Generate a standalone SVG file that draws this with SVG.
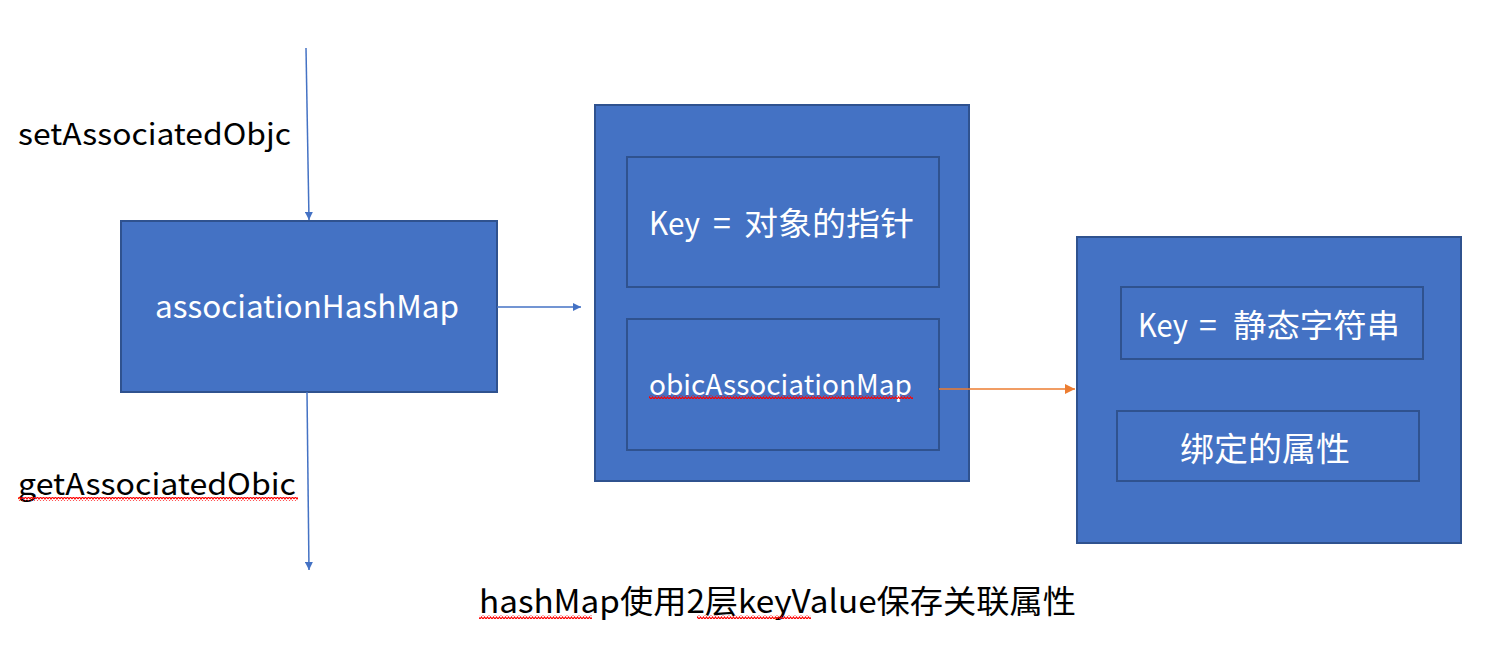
<svg xmlns="http://www.w3.org/2000/svg" width="1510" height="654" viewBox="0 0 1510 654">
<defs>
<style>
.box{fill:#4472C4;stroke:#2F528F;stroke-width:2}
.t{font-family:"Noto Sans CJK SC","Liberation Sans",sans-serif}
.w{fill:#fff}
.k{fill:#000}
.blue{stroke:#4472C4;stroke-width:1.5;fill:none}
.orange{stroke:#ED7D31;stroke-width:1.5;fill:none}
</style>
<marker id="ab" viewBox="0 0 10 10" refX="10" refY="5" markerWidth="8" markerHeight="8" markerUnits="userSpaceOnUse" orient="auto"><path d="M0,0 L10,5 L0,10 z" fill="#4472C4"/></marker>
<marker id="ao" viewBox="0 0 10 10" refX="10" refY="5" markerWidth="10" markerHeight="10" markerUnits="userSpaceOnUse" orient="auto"><path d="M0,0 L10,5 L0,10 z" fill="#ED7D31"/></marker>
<pattern id="wave" width="6" height="4" patternUnits="userSpaceOnUse"><path d="M0,3 L1.5,1 L3,3 L4.5,1 L6,3" stroke="#FF0000" stroke-width="1.2" fill="none"/></pattern>
</defs>
<rect width="1510" height="654" fill="#fff"/>
<g id="label-set"><text class="t k" x="18" y="145" font-size="30" textLength="273" lengthAdjust="spacingAndGlyphs">setAssociatedObjc</text></g>
<g id="label-get"><text class="t k" x="18" y="495" font-size="30" textLength="278" lengthAdjust="spacingAndGlyphs">getAssociatedObic</text>
<rect x="18" y="497" width="280" height="4" fill="url(#wave)"/></g>
<g id="associationHashMap">
<rect class="box" x="121" y="221" width="376" height="171"/>
<text class="t w" x="155" y="318" font-size="31" textLength="304" lengthAdjust="spacingAndGlyphs">associationHashMap</text>
</g>
<g id="outer-map">
<rect class="box" x="595" y="105" width="374" height="376"/>
</g>
<g id="key-pointer">
<rect class="box" x="627" y="157" width="312" height="130"/>
<text class="t w" y="235" font-size="32"><tspan x="649" textLength="51" lengthAdjust="spacingAndGlyphs">Key</tspan><tspan x="713">=</tspan><tspan x="744" textLength="170" lengthAdjust="spacingAndGlyphs">对象的指针</tspan></text>
</g>
<g id="obicAssociationMap">
<rect class="box" x="627" y="319" width="312" height="131"/>
<text class="t w" x="649" y="395" font-size="28" textLength="263" lengthAdjust="spacingAndGlyphs">obicAssociationMap</text>
<rect x="649" y="395" width="264" height="4" fill="url(#wave)"/>
</g>
<g id="inner-map">
<rect class="box" x="1077" y="237" width="384" height="306"/>
</g>
<g id="key-string">
<rect class="box" x="1121" y="287" width="302" height="72"/>
<text class="t w" y="337" font-size="32"><tspan x="1138" textLength="50" lengthAdjust="spacingAndGlyphs">Key</tspan><tspan x="1199">=</tspan><tspan x="1233" textLength="167" lengthAdjust="spacingAndGlyphs">静态字符串</tspan></text>
</g>
<g id="bound-attr">
<rect class="box" x="1117" y="411" width="302" height="70"/>
<text class="t w" x="1180" y="461" font-size="33" textLength="170" lengthAdjust="spacingAndGlyphs">绑定的属性</text>
</g>
<g id="caption">
<text class="t k" x="479" y="613" font-size="32" textLength="597" lengthAdjust="spacingAndGlyphs">hashMap使用2层keyValue保存关联属性</text>
<rect x="479" y="615" width="113" height="4" fill="url(#wave)"/>
<rect x="697" y="615" width="114" height="4" fill="url(#wave)"/>
</g>
<g id="connectors">
<path class="blue" d="M306,48 L309,220" marker-end="url(#ab)"/>
<path class="blue" d="M307,392 L309,570" marker-end="url(#ab)"/>
<path class="blue" d="M497,307 L581,307" marker-end="url(#ab)"/>
<path class="orange" d="M939,389 L1075,389" marker-end="url(#ao)"/>
</g>
</svg>
